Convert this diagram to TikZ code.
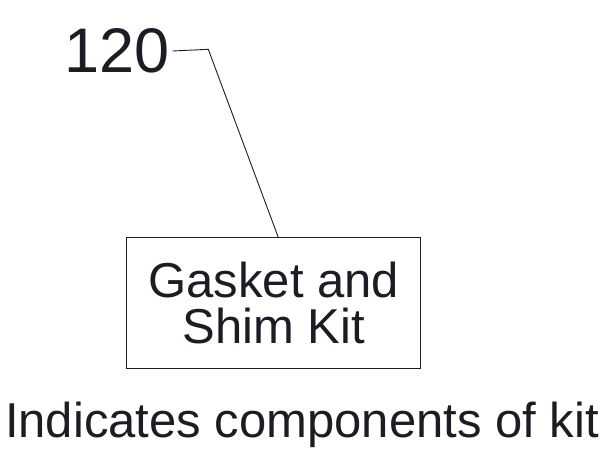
\documentclass[tikz,border=0pt]{standalone}
\usepackage{fontspec}
\setmainfont{Liberation Sans}
\usetikzlibrary{positioning}
\definecolor{ink}{RGB}{28,28,36}

\begin{document}
\begin{tikzpicture}[
  x=1pt,y=-1pt,
  refnum/.style={font=\fontsize{63}{63}\selectfont,text=ink,inner sep=0pt,anchor=base west},
  kitbox/.style={draw=ink,line width=1pt,minimum width=294pt,minimum height=131pt,align=center,
    font=\fontsize{49}{46}\selectfont,text=ink,inner sep=0pt},
  leader/.style={draw=ink,line width=0.9pt}
]
  \useasboundingbox (0,0) rectangle (613,465);

  \node[refnum] (num120) at (64,72.7) {120};
  \node[kitbox] (kit) at (273.7,303.4) {Gasket and\\Shim Kit};
  \node[font=\fontsize{49}{49}\selectfont,text=ink,inner sep=0pt,anchor=base] (caption) at (302,437) {Indicates components of kit};

  \coordinate (bend) at (208.3,49.3);
  \draw[leader] ([xshift=3pt]num120.east) -- (bend) -- ([xshift=4.6pt]kit.north);
\end{tikzpicture}
\end{document}
